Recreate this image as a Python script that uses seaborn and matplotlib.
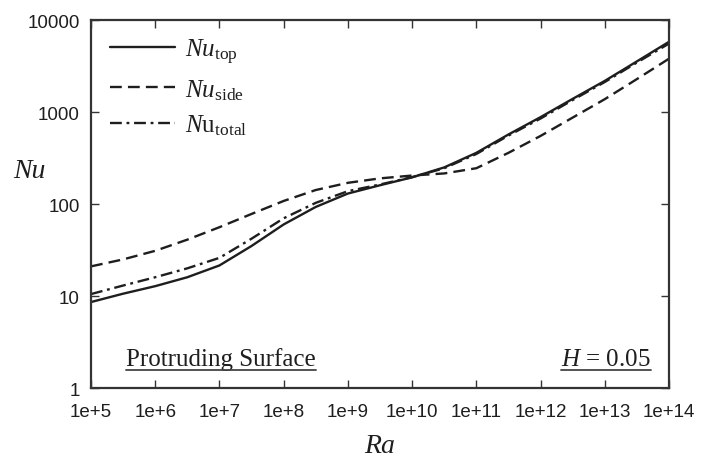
import matplotlib
matplotlib.use("Agg")
import matplotlib.pyplot as plt
import seaborn as sns
import pandas as pd
from matplotlib.lines import Line2D

# ---- data ----
ra = [1e5, 3.16e5, 1e6, 3.16e6, 1e7, 3.16e7, 1e8, 3.16e8, 1e9, 3.16e9,
      1e10, 3.16e10, 1e11, 3.16e11, 1e12, 3.16e12, 1e13, 3.16e13, 1e14]
nu_top = [8.6, 10.6, 12.8, 16, 21.5, 35, 60, 93, 130, 160,
          195, 250, 360, 570, 880, 1390, 2180, 3550, 5800]
nu_side = [21, 25, 31, 41, 56, 78, 108, 142, 170, 190,
           204, 215, 245, 360, 550, 870, 1380, 2280, 3800]
nu_total = [10.5, 13, 16, 20, 26, 42, 70, 103, 138, 163,
            196, 245, 350, 555, 850, 1350, 2120, 3450, 5550]

x_ticks = [1e5, 1e6, 1e7, 1e8, 1e9, 1e10, 1e11, 1e12, 1e13, 1e14]
x_labels = ["1e+5", "1e+6", "1e+7", "1e+8", "1e+9", "1e+10", "1e+11",
            "1e+12", "1e+13", "1e+14"]
y_ticks = [1, 10, 100, 1000, 10000]
y_labels = ["1", "10", "100", "1000", "10000"]

labels = [r"$\mathit{Nu}_{\mathrm{top}}$",
          r"$\mathit{Nu}_{\mathrm{side}}$",
          r"$\mathit{N}\mathrm{u}_{\mathrm{total}}$"]

# ---- style ----
sns.set_style("ticks")
plt.rcParams["font.family"] = ["Liberation Sans", "DejaVu Sans"]
plt.rcParams["mathtext.fontset"] = "custom"
plt.rcParams["mathtext.rm"] = "Liberation Serif"
plt.rcParams["mathtext.it"] = "Liberation Serif:italic"
plt.rcParams["mathtext.bf"] = "Liberation Serif:bold"

ink = "#1e1e1e"
spine_c = "#333333"

fig = plt.figure(figsize=(7.15, 4.64), dpi=100, facecolor="white")
ax = fig.add_axes([0.1273, 0.1616, 0.8084, 0.7931])
ax.set_xscale("log")
ax.set_yscale("log")

df = pd.DataFrame({"Ra": ra, "top": nu_top, "side": nu_side, "total": nu_total})

sns.lineplot(data=df, x="Ra", y="top", ax=ax, color=ink, lw=1.7,
             estimator=None, label=labels[0])
sns.lineplot(data=df, x="Ra", y="side", ax=ax, color=ink, lw=1.7,
             estimator=None, dashes=(5, 2.6), label=labels[1])
sns.lineplot(data=df, x="Ra", y="total", ax=ax, color=ink, lw=1.7,
             estimator=None, dashes=(5, 2, 1.2, 2), label=labels[2])

ax.set_xlim(1e5, 1e14)
ax.set_ylim(1, 10000)
ax.set_xticks(x_ticks)
ax.set_xticklabels(x_labels)
ax.set_yticks(y_ticks)
ax.set_yticklabels(y_labels)
ax.minorticks_off()
ax.tick_params(which="major", direction="in", length=6, width=1.0,
               color=spine_c, top=True, right=True, labelsize=13.5,
               labelcolor=ink)
ax.tick_params(axis="x", pad=11)
ax.tick_params(axis="y", pad=8)
for s in ax.spines.values():
    s.set_visible(True)
    s.set_linewidth(1.6)
    s.set_color(spine_c)

ax.set_xlabel("Ra", fontsize=20, fontstyle="italic",
              fontfamily="Liberation Serif", color=ink, va="top")
ax.set_ylabel("Nu", fontsize=20, fontstyle="italic",
              fontfamily="Liberation Serif", color=ink, rotation=0,
              va="center", ha="center")
ax.xaxis.set_label_coords(0.5, -0.122)
ax.yaxis.set_label_coords(-0.107, 0.59)

leg = ax.legend(loc="upper left", bbox_to_anchor=(0.033, 0.955),
                frameon=False, fontsize=18, handlelength=2.6,
                handletextpad=0.4, labelspacing=0.45, borderpad=0,
                borderaxespad=0)
for t in leg.get_texts():
    t.set_color(ink)

t1 = ax.text(0.0606, 0.0625, "Protruding Surface", transform=ax.transAxes,
             fontsize=18, fontfamily="Liberation Serif", color=ink,
             ha="left", va="baseline")
t2 = ax.text(0.969, 0.0625, r"$\mathit{H}$ = 0.05", transform=ax.transAxes,
             fontsize=18, fontfamily="Liberation Serif", color=ink,
             ha="right", va="baseline")

# underline the two annotations
fig.canvas.draw()
rend = fig.canvas.get_renderer()
inv = fig.transFigure.inverted()
for t in (t1, t2):
    bb = t.get_window_extent(rend)
    base_disp = ax.transAxes.transform((0, 0.0625))[1]
    y_u = base_disp - 5
    (x0, y0) = inv.transform((bb.x0, y_u))
    (x1, _) = inv.transform((bb.x1, y_u))
    fig.add_artist(Line2D([x0, x1], [y0, y0], transform=fig.transFigure,
                          color="#444444", lw=1.3))

fig.savefig("out.png", dpi=100, facecolor="white")
